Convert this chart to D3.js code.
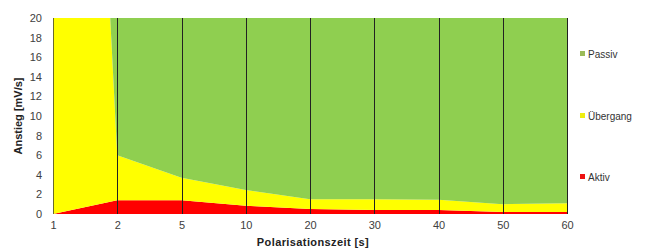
<!DOCTYPE html>
<html><head><meta charset="utf-8">
<script src="https://cdn.jsdelivr.net/npm/d3@7"></script>
<style>
html,body{margin:0;padding:0;background:#fff;}
svg{display:block;font-family:"Liberation Sans",Arial,sans-serif;}
</style></head>
<body>
<svg id="chart" width="648" height="251"></svg>
<script>
const categories = ["1","2","5","10","20","30","40","50","60"];
const aktiv    = [0, 1.4, 1.4, 0.85, 0.5, 0.4, 0.4, 0.2, 0.2];
const uebergang= [134, 4.6, 2.3, 1.6, 1.0, 1.1, 1.05, 0.8, 0.9];
const passiv   = [0, 14.0, 16.3, 17.55, 18.5, 18.5, 18.55, 19.0, 18.9];
const yTicks = [0,2,4,6,8,10,12,14,16,18,20];
const seriesNames = ["Aktiv","Übergang","Passiv"];
const colors = {"Aktiv":"#ff0000","Übergang":"#ffff00","Passiv":"#8fcf50"};
const legendColors = {"Aktiv":"#ee1111","Übergang":"#eeee11","Passiv":"#9bbb59"};

const svg = d3.select("#chart");
const L=53, R=567, T=18, B=214;
const x = d3.scalePoint().domain(categories).range([L,R]);
const y = d3.scaleLinear().domain([0,20]).range([B,T]);

const rows = categories.map((c,i)=>({cat:c, "Aktiv":aktiv[i], "Übergang":uebergang[i], "Passiv":passiv[i]}));
const stacked = d3.stack().keys(seriesNames)(rows);

svg.append("clipPath").attr("id","clip").append("rect")
  .attr("x",L).attr("y",T).attr("width",R-L).attr("height",B-T);

const area = d3.area()
  .x(d=>x(d.data.cat))
  .y0(d=>y(d[0])).y1(d=>y(d[1]));

const g = svg.append("g").attr("clip-path","url(#clip)");
g.selectAll("path").data(stacked).enter().append("path")
  .attr("d",area).attr("fill",d=>colors[d.key]);

// vertical lines at categories
svg.append("g").selectAll("line").data(categories).enter().append("line")
  .attr("x1",d=>Math.round(x(d))+0.5).attr("x2",d=>Math.round(x(d))+0.5)
  .attr("y1",T).attr("y2",B)
  .attr("stroke",d=>d==="1"?"#6b6b2a":"#222").attr("stroke-width",1);

// Y axis
const yAxis = d3.axisLeft(y).tickValues(yTicks).tickSize(0).tickPadding(0);
const ya = svg.append("g").attr("transform",`translate(${L-11},0)`).call(yAxis);
ya.select(".domain").remove();
ya.selectAll("text").attr("fill","#404040").style("font-size","11px");

// X axis
const xAxis = d3.axisBottom(x).tickSize(0).tickPadding(0);
const xa = svg.append("g").attr("transform",`translate(0,${B+7})`).call(xAxis);
xa.select(".domain").remove();
xa.selectAll("text").attr("fill","#404040").style("font-size","11px");

// Axis titles
svg.append("text").attr("transform",`translate(22,${(T+B)/2}) rotate(-90)`)
  .attr("text-anchor","middle").style("font-size","11px").style("font-weight","bold")
  .attr("fill","#222").text("Anstieg [mV/s]");
svg.append("text").attr("x",313).attr("y",246)
  .attr("text-anchor","middle").style("font-size","11px").style("font-weight","bold")
  .style("letter-spacing","0.4px").attr("fill","#222").text("Polarisationszeit [s]");

// Legend
const legendY = {"Passiv":54,"Übergang":116,"Aktiv":177};
const lg = svg.append("g");
["Passiv","Übergang","Aktiv"].forEach(k=>{
  lg.append("rect").attr("x",580).attr("y",legendY[k]-3).attr("width",5).attr("height",5)
    .attr("fill",legendColors[k]);
  lg.append("text").attr("x",588).attr("y",legendY[k]).attr("dy","0.35em")
    .style("font-size","10px").attr("fill","#333").text(k);
});
</script>
</body></html>
